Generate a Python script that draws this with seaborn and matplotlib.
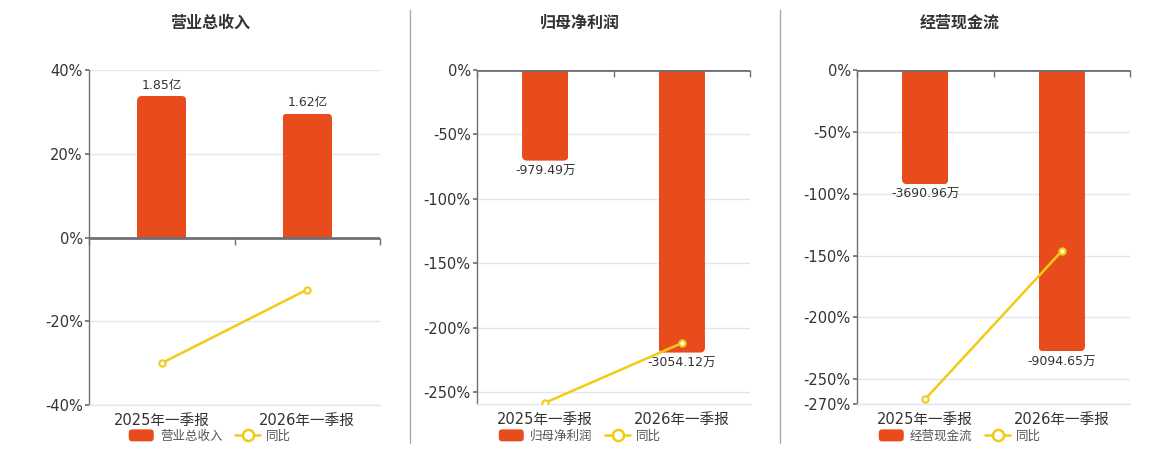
import matplotlib
matplotlib.use("Agg")
import matplotlib.pyplot as plt
from matplotlib.patches import Patch, FancyBboxPatch, Rectangle
from matplotlib.lines import Line2D
from matplotlib.legend_handler import HandlerPatch
import seaborn as sns

sns.set_theme(style="white")
plt.rcParams['font.family'] = ['DejaVu Sans', 'Noto Sans CJK SC']
plt.rcParams['axes.unicode_minus'] = False

# ---- data ----
categories = ["2025年一季报", "2026年一季报"]

titles = ["营业总收入", "归母净利润", "经营现金流"]

rev_values = [1.85, 1.62]            # 亿
rev_labels = ["1.85亿", "1.62亿"]
rev_yoy = [-30.0, -12.43]            # %

np_values = [-979.49, -3054.12]      # 万
np_labels = ["-979.49万", "-3054.12万"]
np_yoy = [-258.0, -211.8]

cf_values = [-3690.96, -9094.65]     # 万
cf_labels = ["-3690.96万", "-9094.65万"]
cf_yoy = [-266.0, -146.4]

rev_ticks = [40, 20, 0, -20, -40]
np_ticks = [0, -50, -100, -150, -200, -250]
cf_ticks = [0, -50, -100, -150, -200, -250, -270]

BAR = "#E84B1C"
LINE = "#F2CB15"
AXIS = "#6E7079"
GRID = "#E0E6F1"
TEXT = "#333333"

fig = plt.figure(figsize=(11.6, 4.5), dpi=100)

panels = [
    dict(rect=[89/1160, 45/450, 291/1160, 335/450], values=rev_values, labels=rev_labels,
         yoy=rev_yoy, ticks=rev_ticks, ylim=(-40, 40), blim=(-2.19, 2.19),
         title=titles[0], cx=210),
    dict(rect=[477/1160, 46/450, 273/1160, 334/450], values=np_values, labels=np_labels,
         yoy=np_yoy, ticks=np_ticks, ylim=(-259, 0), blim=(-3610, 0),
         title=titles[1], cx=580),
    dict(rect=[857/1160, 46/450, 273/1160, 334/450], values=cf_values, labels=cf_labels,
         yoy=cf_yoy, ticks=cf_ticks, ylim=(-270, 0), blim=(-10800, 0),
         title=titles[2], cx=960),
]


def round_bars(axb, radius_px=5):
    """Replace the seaborn bars with versions rounded at their far end."""
    inv = axb.transData.inverted()
    (x0, y0), (x1, y1) = inv.transform([(0, 0), (1, 1)])
    xpp = abs(x1 - x0)
    ypp = abs(y1 - y0)
    r = radius_px * xpp
    aspect = ypp / xpp
    ext = 2 * radius_px * ypp
    for rect in list(axb.patches):
        x, y = rect.get_x(), rect.get_y()
        w, h = rect.get_width(), rect.get_height()
        bottom, top = min(y, y + h), max(y, y + h)
        if h >= 0:
            ry, rh = bottom - ext, (top - bottom) + ext
        else:
            ry, rh = bottom, (top - bottom) + ext
        fp = FancyBboxPatch((x, ry), w, rh,
                            boxstyle=f"round,pad=0,rounding_size={r}",
                            mutation_aspect=aspect, facecolor=rect.get_facecolor(),
                            edgecolor="none", zorder=rect.get_zorder(),
                            transform=axb.transData)
        clip = Rectangle((x, bottom), w, top - bottom, transform=axb.transData)
        axb.add_patch(fp)
        fp.set_clip_path(clip)
        rect.set_visible(False)


def rounded_handle(legend, orig_handle, xdescent, ydescent, width, height, fontsize):
    return FancyBboxPatch((-xdescent, -ydescent), width, height,
                          boxstyle="round,pad=0,rounding_size=2.5")


for p in panels:
    ax = fig.add_axes(p["rect"])
    ax.set_xlim(-0.5, 1.5)
    ax.set_ylim(*p["ylim"])
    ax.set_yticks(p["ticks"])
    ax.set_yticklabels([f"{t}%" for t in p["ticks"]], fontsize=10.5, color=TEXT)
    ax.yaxis.grid(True, color=GRID, linewidth=1)
    ax.set_axisbelow(True)
    ax.tick_params(axis="y", length=3, color=AXIS, pad=1.5)
    for s in ["top", "right"]:
        ax.spines[s].set_visible(False)
    ax.spines["left"].set_color(AXIS)
    ax.spines["left"].set_linewidth(1)
    ax.spines["bottom"].set_color(GRID)
    ax.spines["bottom"].set_linewidth(1)

    # bars on hidden axis
    axb = ax.twinx()
    sns.barplot(x=categories, y=p["values"], ax=axb, color=BAR, width=0.34,
                saturation=1, edgecolor="none", zorder=2)
    axb.set_ylim(*p["blim"])
    axb.set_xlim(-0.5, 1.5)
    axb.set_yticks([])
    axb.set_ylabel("")
    for s in axb.spines.values():
        s.set_visible(False)
    axb.bar_label(axb.containers[0], labels=p["labels"], padding=3, fontsize=9, color=TEXT)
    round_bars(axb, 5)

    # boundary ticks under the zero line
    lo, hi = p["ylim"]
    zpos = (0 - lo) / (hi - lo)
    sec = ax.secondary_xaxis(zpos)
    sec.set_alignment("bottom")
    sec.set_xticks([-0.5, 0.5, 1.5])
    sec.set_xticklabels([])
    sec.tick_params(axis="x", direction="out", length=5, color=AXIS, width=1)
    for s in sec.spines.values():
        s.set_visible(False)

    # line on top axis with same scale as percent axis
    axl = ax.twinx()
    sns.lineplot(x=categories, y=p["yoy"], ax=axl, color=LINE, linewidth=1.8,
                 marker="o", markersize=4.5, markerfacecolor="white",
                 markeredgecolor=LINE, markeredgewidth=1.5, sort=False, zorder=3)
    axl.axhline(0, color=AXIS, linewidth=2, zorder=4)
    axl.set_ylim(*p["ylim"])
    axl.set_xlim(-0.5, 1.5)
    axl.set_yticks([])
    axl.set_ylabel("")
    for s in axl.spines.values():
        s.set_visible(False)

    ax.set_xticks([0, 1])
    ax.set_xticklabels(categories, fontsize=10.5, color=TEXT)
    ax.tick_params(axis="x", length=0, pad=6)
    axb.tick_params(axis="x", length=0, labelbottom=False)
    axl.tick_params(axis="x", length=0, labelbottom=False)

    fig.text(p["cx"]/1160, 1 - 23/450, p["title"], ha="center", va="center",
             fontsize=11.5, fontweight="bold", color=TEXT)

    handles = [Patch(facecolor=BAR, edgecolor="none"),
               Line2D([0], [0], color=LINE, linewidth=1.8, marker="o", markersize=8,
                      markerfacecolor="white", markeredgecolor=LINE, markeredgewidth=1.8)]
    fig.legend(handles, [p["title"], "同比"], loc="center",
               bbox_to_anchor=(p["cx"]/1160, 1 - 436/450), ncol=2, frameon=False,
               fontsize=9, handlelength=2.0, handleheight=1.1, columnspacing=1.0,
               handletextpad=0.5, labelcolor="#555555",
               handler_map={Patch: HandlerPatch(patch_func=rounded_handle)})

# separators
for xs in [410, 780]:
    fig.add_artist(Line2D([xs/1160, xs/1160], [1 - 443/450, 1 - 10/450],
                          color="#AAAAAA", linewidth=1))

fig.savefig("out.png", dpi=100, facecolor="white")
